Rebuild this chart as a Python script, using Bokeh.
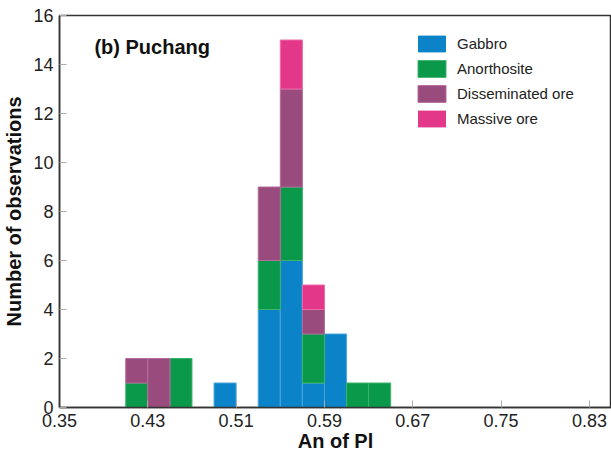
from bokeh.plotting import figure
from bokeh.models import ColumnDataSource, FixedTicker, Legend, Label
from bokeh.embed import file_html
from bokeh.resources import INLINE

# ---- data ----
bin_starts = [0.41, 0.43, 0.45, 0.49, 0.53, 0.55, 0.57, 0.59, 0.61, 0.63]
bin_width = 0.02
gabbro = [0, 0, 0, 1, 4, 6, 1, 3, 0, 0]
anorthosite = [1, 0, 2, 0, 2, 3, 2, 0, 1, 1]
disseminated = [1, 2, 0, 0, 3, 4, 1, 0, 0, 0]
massive = [0, 0, 0, 0, 0, 2, 1, 0, 0, 0]
series_names = ["Gabbro", "Anorthosite", "Disseminated ore", "Massive ore"]
x_ticks = [0.35, 0.43, 0.51, 0.59, 0.67, 0.75, 0.83]
y_ticks = [0, 2, 4, 6, 8, 10, 12, 14, 16]

fills = ["#0b83c9", "#0a984a", "#9a4b7e", "#e3378a"]
edges = ["#4aa6dc", "#3cb46c", "#b46c9a", "#f06aa8"]

centers = [s + bin_width / 2 for s in bin_starts]
keys = ["gabbro", "anorthosite", "disseminated", "massive"]
series = [gabbro, anorthosite, disseminated, massive]
data = dict(x=centers)
for k, vals in zip(keys, series):
    data[k] = vals
    # hide the outline of empty (zero-height) segments
    data[k + "_la"] = [1.0 if v > 0 else 0.0 for v in vals]
src = ColumnDataSource(data)

FONT = "Liberation Sans"

p = figure(width=611, height=455, x_range=(0.35, 0.85), y_range=(0, 16),
           output_backend="svg", toolbar_location=None,
           min_border_left=58, min_border_right=0, min_border_top=15,
           min_border_bottom=48)
p.grid.visible = False
p.background_fill_color = "white"
p.border_fill_color = "white"
p.outline_line_color = "#333333"
p.outline_line_width = 1.5

renderers = p.vbar_stack(keys, x="x", width=bin_width, source=src,
                         fill_color=fills, line_color=edges, line_width=1,
                         line_alpha=[k + "_la" for k in keys])

legend = Legend(items=[(n, [r]) for n, r in zip(series_names, renderers)],
                location=(355, 278), orientation="vertical")
legend.glyph_width = 35
legend.glyph_height = 21
legend.spacing = 4
legend.padding = 0
legend.margin = 0
legend.label_standoff = 8
legend.label_height = 21
legend.border_line_color = None
legend.background_fill_alpha = 0
legend.label_text_font = FONT
legend.label_text_font_size = "15px"
legend.label_text_color = "#222222"
p.add_layout(legend, "center")

for ax in (p.xaxis[0], p.yaxis[0]):
    ax.axis_line_color = "#333333"
    ax.axis_line_width = 1.5
    ax.major_tick_line_color = "#aaaaaa"
    ax.major_tick_in = 7
    ax.major_tick_out = 0
    ax.minor_tick_line_color = None
    ax.major_label_text_font = FONT
    ax.major_label_text_font_size = "18px"
    ax.major_label_text_color = "#222222"
    ax.axis_label_text_font = FONT
    ax.axis_label_text_font_style = "bold"
    ax.axis_label_text_font_size = "20px"
    ax.axis_label_text_color = "#111111"

p.xaxis.ticker = FixedTicker(ticks=x_ticks)
p.yaxis.ticker = FixedTicker(ticks=y_ticks)
p.xaxis.major_label_overrides = {t: f"{t:.2f}" for t in x_ticks}
p.xaxis.axis_label = "An of Pl"
p.yaxis.axis_label = "Number of observations"
p.xaxis.major_label_standoff = 6
p.xaxis.axis_label_standoff = 0
p.yaxis.major_label_standoff = 6
p.yaxis.axis_label_standoff = 5

title = Label(x=0.3816, y=14.73, text="(b)  Puchang", text_font=FONT,
              text_font_style="bold", text_font_size="20px",
              text_color="#111111", text_baseline="alphabetic")
p.add_layout(title)

open("out.html", "w").write(file_html(p, INLINE))
